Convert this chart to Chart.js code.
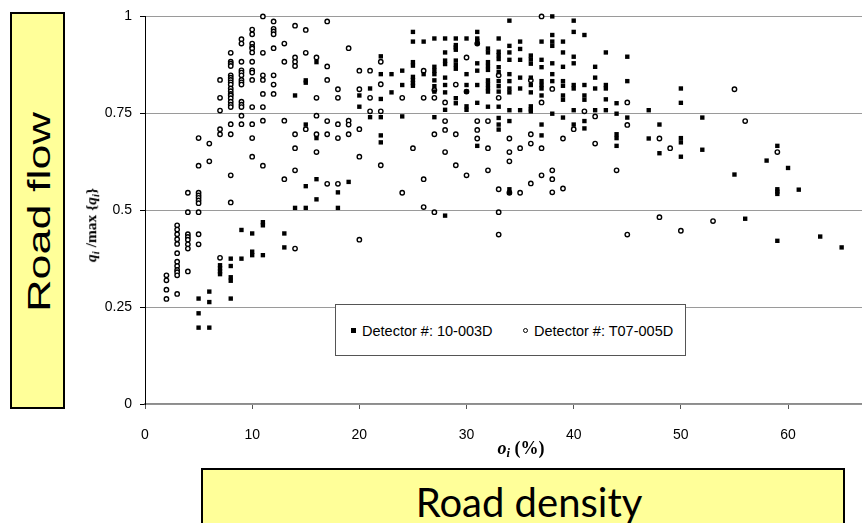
<!DOCTYPE html>
<html>
<head>
<meta charset="utf-8">
<script src="https://cdn.jsdelivr.net/npm/chart.js@4.4.1/dist/chart.umd.min.js"></script>
<style>
  html, body { margin: 0; padding: 0; background: #fff; }
  #wrap { position: relative; width: 862px; height: 523px; overflow: hidden; background: #fff; }
  #c { position: absolute; left: 0; top: 0; }
  .ybox { position: absolute; background: #ffff99; border: 2px solid #000; box-sizing: border-box; }
  .rot { position: absolute; white-space: nowrap; line-height: 1; }
  .leg { position: absolute; left: 335px; top: 304px; width: 351px; height: 52px; border: 1px solid #555; box-sizing: border-box; background: #fff; }
  .legtxt { position: absolute; font-family: "Liberation Sans", Arial, sans-serif; font-size: 14.5px; line-height: 1; white-space: nowrap; color: #000; }
  .sq { position: absolute; width: 5px; height: 5px; background: #000; }
  .ci { position: absolute; width: 5px; height: 5px; border: 1.3px solid #000; border-radius: 50%; box-sizing: border-box; background: #fff; }
  .ttl { font-family: "Liberation Serif", "Times New Roman", serif; font-weight: bold; color: #000; }
  .ttl sub { font-size: 70%; vertical-align: -0.25em; }
</style>
</head>
<body>
<div id="wrap">
  <canvas id="c" width="862" height="523"></canvas>

  <div class="ybox" style="left:10px; top:12px; width:55px; height:397px;"></div>
  <div class="rot" style="left:39px; top:212px; transform: translate(-50%,-50%) rotate(-90deg) scaleX(1.45); font-family:'Liberation Sans', Arial, sans-serif; font-size:31px; color:#000;">Road flow</div>

  <div class="ybox" style="left:201px; top:468px; width:644px; height:70px;"></div>
  <div class="rot" style="left:529px; top:502px; transform: translate(-50%,-50%); font-family:Lato, 'Open Sans', sans-serif; font-size:40px; color:#000;">Road density</div>

  <div class="rot ttl" style="left:92px; top:225px; transform: translate(-50%,-50%) rotate(-90deg); font-size:15.5px;"><i>q</i><sub><i>i</i></sub> /max {<i>q</i><sub><i>i</i></sub>}</div>
  <div class="rot ttl" style="left:521px; top:449px; transform: translate(-50%,-50%); font-size:18px;"><i>o</i><sub><i>i</i></sub> (%)</div>

  <div class="leg"></div>
  <div class="sq" style="left:351px; top:328px;"></div>
  <div class="legtxt" style="left:362px; top:324px;">Detector #: 10-003D</div>
  <div class="ci" style="left:523px; top:328px;"></div>
  <div class="legtxt" style="left:534px; top:324px;">Detector #: T07-005D</div>
</div>

<script>
// ---- data ----
// occupancy columns (x, %) and normalised flows (y) for detector 10-003D
const occA = [5,6,7,8,9,10,11,13,14,15,16,18,19,20,21,22,23,24,25,26,27,28,29,30,31,32,33,34,35,36,37,38,39,40,41,42,43,44,45,47,48,50,52,55,56,58,59,60,61,63,65];
const flowA = [
  [0.272,0.234,0.197],
  [0.29,0.263,0.197],
  [0.358,0.35,0.342,0.335],
  [0.375,0.356,0.327,0.318,0.272],
  [0.449,0.375],
  [0.44,0.393,0.384],
  [0.469,0.461,0.384],
  [0.44,0.404],
  [0.796,0.506],
  [0.835,0.829,0.721,0.562,0.506],
  [0.882,0.686,0.58,0.528],
  [0.546,0.506],
  [0.573],
  [0.796,0.767],
  [0.814,0.74],
  [0.897,0.851,0.787,0.74,0.693,0.675],
  [0.851,0.804],
  [0.86,0.823,0.742],
  [0.96,0.935,0.882,0.873,0.844,0.836,0.828,0.821],
  [0.935,0.851],
  [0.943,0.87,0.86,0.851,0.835,0.82,0.806,0.74],
  [0.943,0.907,0.886,0.877,0.842,0.823,0.804,0.759,0.486],
  [0.943,0.926,0.92,0.914,0.886,0.875,0.865,0.789,0.776],
  [0.943,0.851,0.823,0.806,0.768,0.759],
  [0.96,0.943,0.937,0.931,0.879,0.86,0.823,0.777,0.666],
  [0.917,0.907,0.882,0.872,0.862,0.835,0.825,0.815,0.806,0.767],
  [0.943,0.909,0.9,0.89,0.869,0.856,0.833,0.82,0.806,0.767,0.738,0.721,0.708],
  [0.989,0.924,0.907,0.888,0.851,0.833,0.814,0.804,0.758,0.73,0.554,0.545],
  [0.935,0.916,0.888,0.842,0.814,0.758],
  [0.899,0.889,0.878,0.842,0.823,0.804,0.768,0.76,0.755],
  [0.935,0.888,0.869,0.833,0.823,0.814,0.796,0.721,0.693],
  [1.0,0.952,0.935,0.924,0.879,0.851,0.833,0.749],
  [0.935,0.907,0.87,0.833,0.821,0.796,0.785,0.739],
  [0.989,0.96,0.896,0.879,0.823,0.814,0.758,0.721],
  [0.952,0.823,0.796,0.785,0.73,0.711],
  [0.87,0.842,0.814,0.758],
  [0.907,0.823,0.814,0.786,0.758],
  [0.776,0.749,0.696,0.686,0.666],
  [0.896,0.833,0.739],
  [0.758,0.685],
  [0.721,0.647],
  [0.814,0.777,0.686,0.675,0.638],
  [0.739,0.656],
  [0.592],
  [0.478],
  [0.628],
  [0.666,0.554,0.548,0.542,0.421],
  [0.609],
  [0.553],
  [0.432],
  [0.404]
];

// occupancy columns and normalised flows for detector T07-005D
const occB = [2,3,4,5,6,7,8,9,10,11,12,13,14,15,16,17,18,19,20,21,22,24,25,26,27,28,29,30,31,32,33,34,35,36,37,38,39,40,41,42,44,45,48,49,50,53,55,56,59];
const flowB = [
  [0.332,0.319,0.295,0.271],
  [0.461,0.45,0.438,0.425,0.413,0.389,0.367,0.356,0.346,0.34,0.332,0.284],
  [0.545,0.495,0.438,0.431,0.424,0.412,0.401,0.342],
  [0.686,0.615,0.545,0.538,0.532,0.525,0.518,0.495,0.438,0.412],
  [0.672,0.626],
  [0.836,0.79,0.757,0.709,0.696,0.377],
  [0.906,0.883,0.878,0.872,0.848,0.842,0.836,0.83,0.824,0.814,0.807,0.8,0.796,0.789,0.78,0.772,0.766,0.722,0.696,0.59,0.52],
  [0.941,0.93,0.883,0.861,0.855,0.848,0.836,0.83,0.824,0.78,0.772,0.766,0.744,0.722],
  [0.966,0.954,0.93,0.921,0.917,0.907,0.883,0.861,0.855,0.836,0.766,0.722,0.686,0.638],
  [1.0,0.906,0.848,0.836,0.8,0.766,0.731,0.615],
  [0.987,0.968,0.961,0.954,0.918,0.848,0.824,0.8],
  [0.93,0.883,0.731,0.58],
  [0.976,0.894,0.883,0.872,0.696,0.66,0.603,0.401],
  [0.965,0.906,0.709],
  [0.894,0.79,0.744,0.696,0.65],
  [0.987,0.871,0.836,0.73,0.696,0.568],
  [0.812,0.79,0.722,0.686,0.568],
  [0.918,0.731,0.721,0.696],
  [0.86,0.812,0.709,0.638,0.424],
  [0.86,0.79,0.755],
  [0.883,0.825,0.755,0.616],
  [0.79,0.545],
  [0.66],
  [0.86,0.79,0.58,0.508],
  [0.81,0.79,0.696,0.495],
  [0.778,0.73,0.707,0.65],
  [0.824,0.696,0.616],
  [0.894,0.806,0.59],
  [0.93,0.73,0.707,0.685],
  [0.73,0.66,0.603],
  [0.848,0.79,0.554,0.495,0.437],
  [0.685,0.65,0.626,0.545],
  [0.66,0.545],
  [0.835,0.696,0.672,0.569],
  [1.0,0.778,0.66,0.59],
  [0.813,0.603,0.58,0.546],
  [0.685,0.556],
  [0.709],
  [0.755],
  [0.742,0.672],
  [0.603],
  [0.778,0.72,0.437],
  [0.685,0.482],
  [0.66],
  [0.447],
  [0.472],
  [0.812],
  [0.73],
  [0.65]
];

const labelA = "Detector #: 10-003D";
const labelB = "Detector #: T07-005D";
const xTickValues = [0,10,20,30,40,50,60];
const yTickValues = [0,0.25,0.5,0.75,1];

function toPoints(occ, flows) {
  const pts = [];
  occ.forEach((o, i) => (flows[i] || []).forEach(f => pts.push({ x: o, y: f })));
  return pts;
}

const tickFont = { family: "'Liberation Sans', Arial, sans-serif", size: 14 };

new Chart(document.getElementById('c').getContext('2d'), {
  type: 'scatter',
  data: {
    datasets: [
      { label: labelA, data: toPoints(occA, flowA), pointStyle: 'rect', pointRadius: 3.1,
        backgroundColor: '#000', borderColor: '#000', borderWidth: 0, clip: false },
      { label: labelB, data: toPoints(occB, flowB), pointStyle: 'circle', pointRadius: 2.2,
        backgroundColor: '#fff', borderColor: '#000', borderWidth: 1.4, clip: false }
    ]
  },
  options: {
    responsive: false,
    animation: false,
    events: [],
    layout: { autoPadding: false, padding: { left: 0, right: 0, top: 12, bottom: 0 } },
    plugins: { legend: { display: false }, tooltip: { enabled: false } },
    scales: {
      x: {
        type: 'linear', min: 0, max: 66.9,
        afterBuildTicks: s => { s.ticks = xTickValues.map(v => ({ value: v })); },
        afterFit: s => { s.height = 119; },
        grid: { display: true, drawOnChartArea: false, drawTicks: true, tickLength: 5, tickColor: '#555', tickWidth: 1 },
        border: { display: true, color: '#8c8c8c', width: 1.5 },
        ticks: { font: tickFont, color: '#000', padding: 18, maxRotation: 0, autoSkip: false }
      },
      y: {
        type: 'linear', min: 0, max: 1,
        afterBuildTicks: s => { s.ticks = yTickValues.map(v => ({ value: v })); },
        afterFit: s => { s.width = 145; },
        grid: { color: '#9a9a9a', lineWidth: 1, drawTicks: true, tickLength: 5, tickColor: '#000', tickWidth: 1 },
        border: { display: true, color: '#000', width: 1 },
        ticks: { font: tickFont, color: '#000', padding: 8, autoSkip: false, callback: v => String(v) }
      }
    }
  }
});
</script>
</body>
</html>
